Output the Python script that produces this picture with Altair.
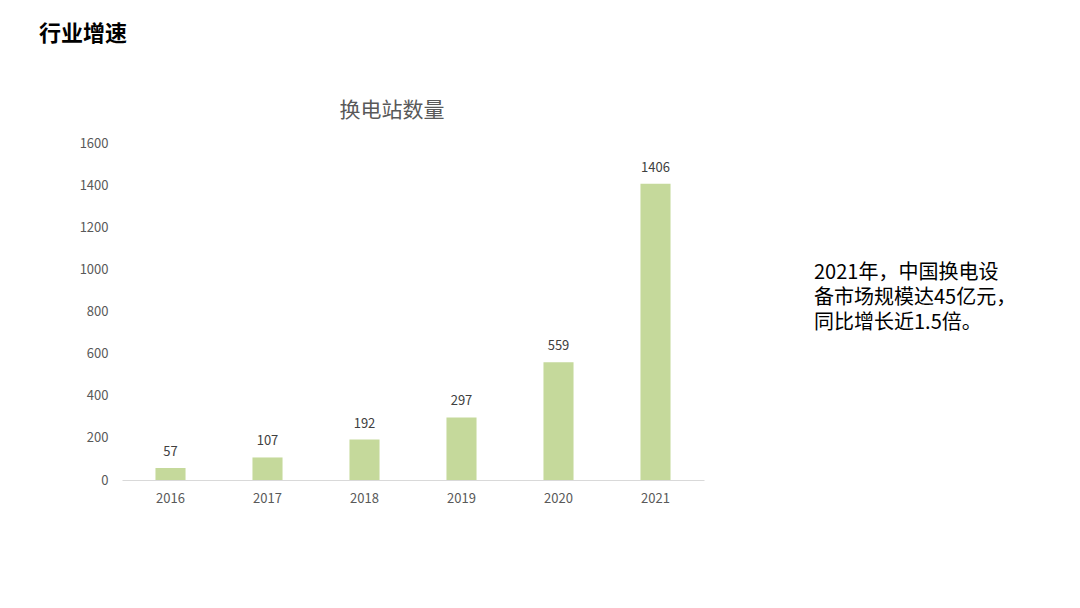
import altair as alt
import pandas as pd

FONT = "Noto Sans CJK SC"

years = ["2016", "2017", "2018", "2019", "2020", "2021"]
stations = [57, 107, 192, 297, 559, 1406]

page_title = "行业增速"
chart_title = "换电站数量"
note_lines = ["2021年，中国换电设", "备市场规模达45亿元，", "同比增长近1.5倍。"]

df = pd.DataFrame({"year": years, "count": stations})

x_enc = alt.X(
    "year:N",
    title=None,
    sort=years,
    scale=alt.Scale(paddingInner=0.69, paddingOuter=0.345),
    axis=alt.Axis(
        labelAngle=0,
        labelFont=FONT,
        labelFontSize=13,
        labelColor="#595959",
        labelPadding=12,
        ticks=False,
        domainColor="#d9d9d9",
        domainWidth=1,
    ),
)
y_enc = alt.Y(
    "count:Q",
    title=None,
    scale=alt.Scale(domain=[0, 1600], nice=False),
    axis=alt.Axis(
        values=list(range(0, 1601, 200)),
        format="d",
        labelFont=FONT,
        labelFontSize=13,
        labelColor="#595959",
        labelPadding=14,
        ticks=False,
        domain=False,
        grid=False,
    ),
)

base = alt.Chart(df)
bars = base.mark_bar(color="#c5d99b").encode(x=x_enc, y=y_enc)
values = base.mark_text(
    font=FONT, fontSize=13, color="#404040", baseline="bottom", dy=-9
).encode(x=alt.X("year:N", sort=years), y="count:Q", text="count:Q")

head = alt.Chart(pd.DataFrame({"t": [page_title]})).mark_text(
    font=FONT, fontSize=22, fontWeight="bold", color="#000000", align="left", baseline="middle"
).encode(x=alt.value(-83), y=alt.value(-109), text="t:N")

ctitle = alt.Chart(pd.DataFrame({"t": [chart_title]})).mark_text(
    font=FONT, fontSize=21, color="#595959", align="center", baseline="middle"
).encode(x=alt.value(270), y=alt.value(-32), text="t:N")

note = alt.Chart(pd.DataFrame({"t": ["\n".join(note_lines)]})).mark_text(
    font=FONT, fontSize=20, color="#000000", align="left", baseline="top",
    lineBreak="\n", lineHeight=25,
).encode(x=alt.value(692), y=alt.value(120), text="t:N")

chart = (
    alt.layer(bars, values, head, ctitle, note)
    .properties(
        width=582,
        height=337,
        autosize=alt.AutoSizeParams(type="none"),
        padding={"left": 114, "top": 135, "right": 368, "bottom": 120},
        background="#ffffff",
    )
    .configure_view(stroke=None)
)

chart.save("out.html", embed_options={"renderer": "svg", "actions": False})
